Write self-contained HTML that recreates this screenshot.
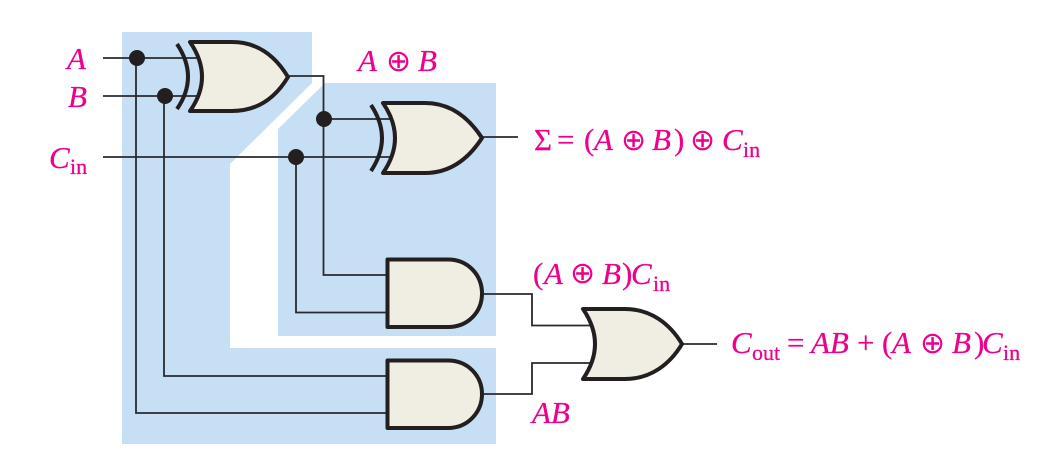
<!DOCTYPE html>
<html><head><meta charset="utf-8">
<style>
html,body{margin:0;padding:0;background:#fff;width:1057px;height:458px;overflow:hidden}
svg{display:block}
text{font-family:"Liberation Serif",serif;fill:#ec008c;stroke:#ec008c;stroke-width:.25;font-size:31px}
.i{font-style:italic}
.s{font-size:22px;font-style:normal}
.x{font-family:"DejaVu Sans",sans-serif;font-size:30px;font-style:normal;stroke:none}
.w{fill:none;stroke:#2a2a2e;stroke-width:1.8}
.g{fill:#f0ede3;stroke:#231f20;stroke-width:4;stroke-linejoin:round}
.b{fill:none;stroke:#231f20;stroke-width:4}
</style></head><body>
<svg width="1057" height="458" viewBox="0 0 1057 458" xmlns="http://www.w3.org/2000/svg">
<polygon points="122,32 312,32 312,83 230,164 230,348 496,348 496,444 122,444" fill="#c7dff5"/>
<polygon points="325,83 496,83 496,336 278,336 278,129" fill="#c7dff5"/>

<path class="w" d="M103,58H198M103,96H198M103,157H392M136,58V413H388M164,96V376H388M288,76H323.500V275H388M323,119H392M296,157V312.500H388M482,137H518M482,294H532V325.500H592M482,394H532V363H592M682,344H717"/>

<g fill="#231f20">
<circle cx="137" cy="58" r="8"/><circle cx="165" cy="96" r="8"/>
<circle cx="296" cy="157" r="8"/><circle cx="324" cy="119" r="8"/>
</g>

<path class="b" d="M177,44Q199,77 177,109"/>
<path class="g" d="M190,42H232C258,42 276,57 288,77C276,97 258,111 232,111H190Q214,77 190,42Z"/>
<path class="b" d="M371,105Q393,138 371,171"/>
<path class="g" d="M383,103H425C451,103 469,118 482,138C469,158 451,173 425,173H383Q407,138 383,103Z"/>
<path class="g" d="M583,309H625C651,309 670,324 682,344C670,364 651,379 625,379H583Q607,344 583,309Z"/>
<path class="g" d="M387.500,259.500H448C468,259.500 482,275 482,293.500C482,312 468,327 448,327H387.500Z"/>
<path class="g" d="M387.500,360.500H448C468,360.500 482,376 482,394C482,412 468,428 448,428H387.500Z"/>

<text class="i" x="67" y="69">A</text>
<text class="i" x="68" y="107">B</text>
<text class="i" x="49" y="168">C</text><text class="s" x="70" y="174">in</text>

<text class="i" x="358" y="71">A</text><text class="x" x="386" y="71">⊕</text><text class="i" x="418" y="71">B</text>

<text x="534" y="150">Σ</text><text x="557" y="150">=</text><text x="584" y="150">(</text><text class="i" x="594" y="150">A</text><text class="x" x="621" y="150">⊕</text><text class="i" x="652" y="150">B</text><text x="674" y="150">)</text><text class="x" x="690" y="150">⊕</text><text class="i" x="722" y="150">C</text><text class="s" x="743" y="157">in</text>

<text x="533" y="284">(</text><text class="i" x="544" y="284">A</text><text class="x" x="570" y="283">⊕</text><text class="i" x="602" y="284">B</text><text x="622" y="284">)</text><text class="i" x="631" y="284">C</text><text class="s" x="653" y="291">in</text>

<text class="i" x="532" y="423">AB</text>

<text class="i" x="731" y="353">C</text><text class="s" x="752" y="360">out</text><text x="787" y="353">=</text><text class="i" x="811" y="353">AB</text><text x="857" y="353">+</text><text x="882" y="353">(</text><text class="i" x="892" y="353">A</text><text class="x" x="920" y="353">⊕</text><text class="i" x="952" y="353">B</text><text x="974" y="353">)</text><text class="i" x="982" y="353">C</text><text class="s" x="1003" y="360">in</text>
</svg>
</body></html>
